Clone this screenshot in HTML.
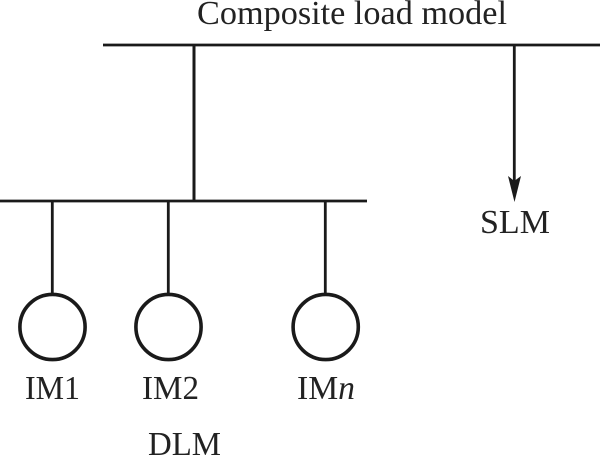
<!DOCTYPE html>
<html>
<head>
<meta charset="utf-8">
<style>
html,body{margin:0;padding:0;background:#fff;width:600px;height:456px;overflow:hidden}
svg{display:block}
text{font-family:"Liberation Serif",serif;font-size:34px;fill:#222}
</style>
</head>
<body>
<svg width="600" height="456" viewBox="0 0 600 456" xmlns="http://www.w3.org/2000/svg">
<rect width="600" height="456" fill="#fff"/>
<g stroke="#1a1a1a" fill="none">
<line x1="103" y1="45" x2="600" y2="45" stroke-width="2.8"/>
<line x1="0" y1="201" x2="367" y2="201" stroke-width="2.8"/>
<line x1="194" y1="45" x2="194" y2="201" stroke-width="3"/>
<line x1="514.3" y1="45" x2="514.3" y2="183" stroke-width="2.8"/>
<line x1="52.3" y1="201" x2="52.3" y2="294" stroke-width="2.8"/>
<line x1="168.3" y1="201" x2="168.3" y2="294" stroke-width="2.8"/>
<line x1="325.3" y1="201" x2="325.3" y2="294" stroke-width="2.8"/>
<circle cx="52.5" cy="327" r="32.6" stroke-width="3.6"/>
<circle cx="168.5" cy="327" r="32.6" stroke-width="3.6"/>
<circle cx="325.7" cy="327" r="32.6" stroke-width="3.6"/>
</g>
<polygon points="508,176 514.3,181 521,176 514.5,202" fill="#1a1a1a"/>
<text x="197" y="24" textLength="310" lengthAdjust="spacingAndGlyphs">Composite load model</text>
<text x="480" y="233" textLength="70" lengthAdjust="spacingAndGlyphs">SLM</text>
<text x="25" y="399" textLength="55" lengthAdjust="spacingAndGlyphs">IM1</text>
<text x="142" y="399" textLength="57" lengthAdjust="spacingAndGlyphs">IM2</text>
<text x="297" y="399" textLength="58" lengthAdjust="spacingAndGlyphs">IM<tspan font-style="italic">n</tspan></text>
<text x="148" y="455" textLength="73" lengthAdjust="spacingAndGlyphs">DLM</text>
</svg>
</body>
</html>
